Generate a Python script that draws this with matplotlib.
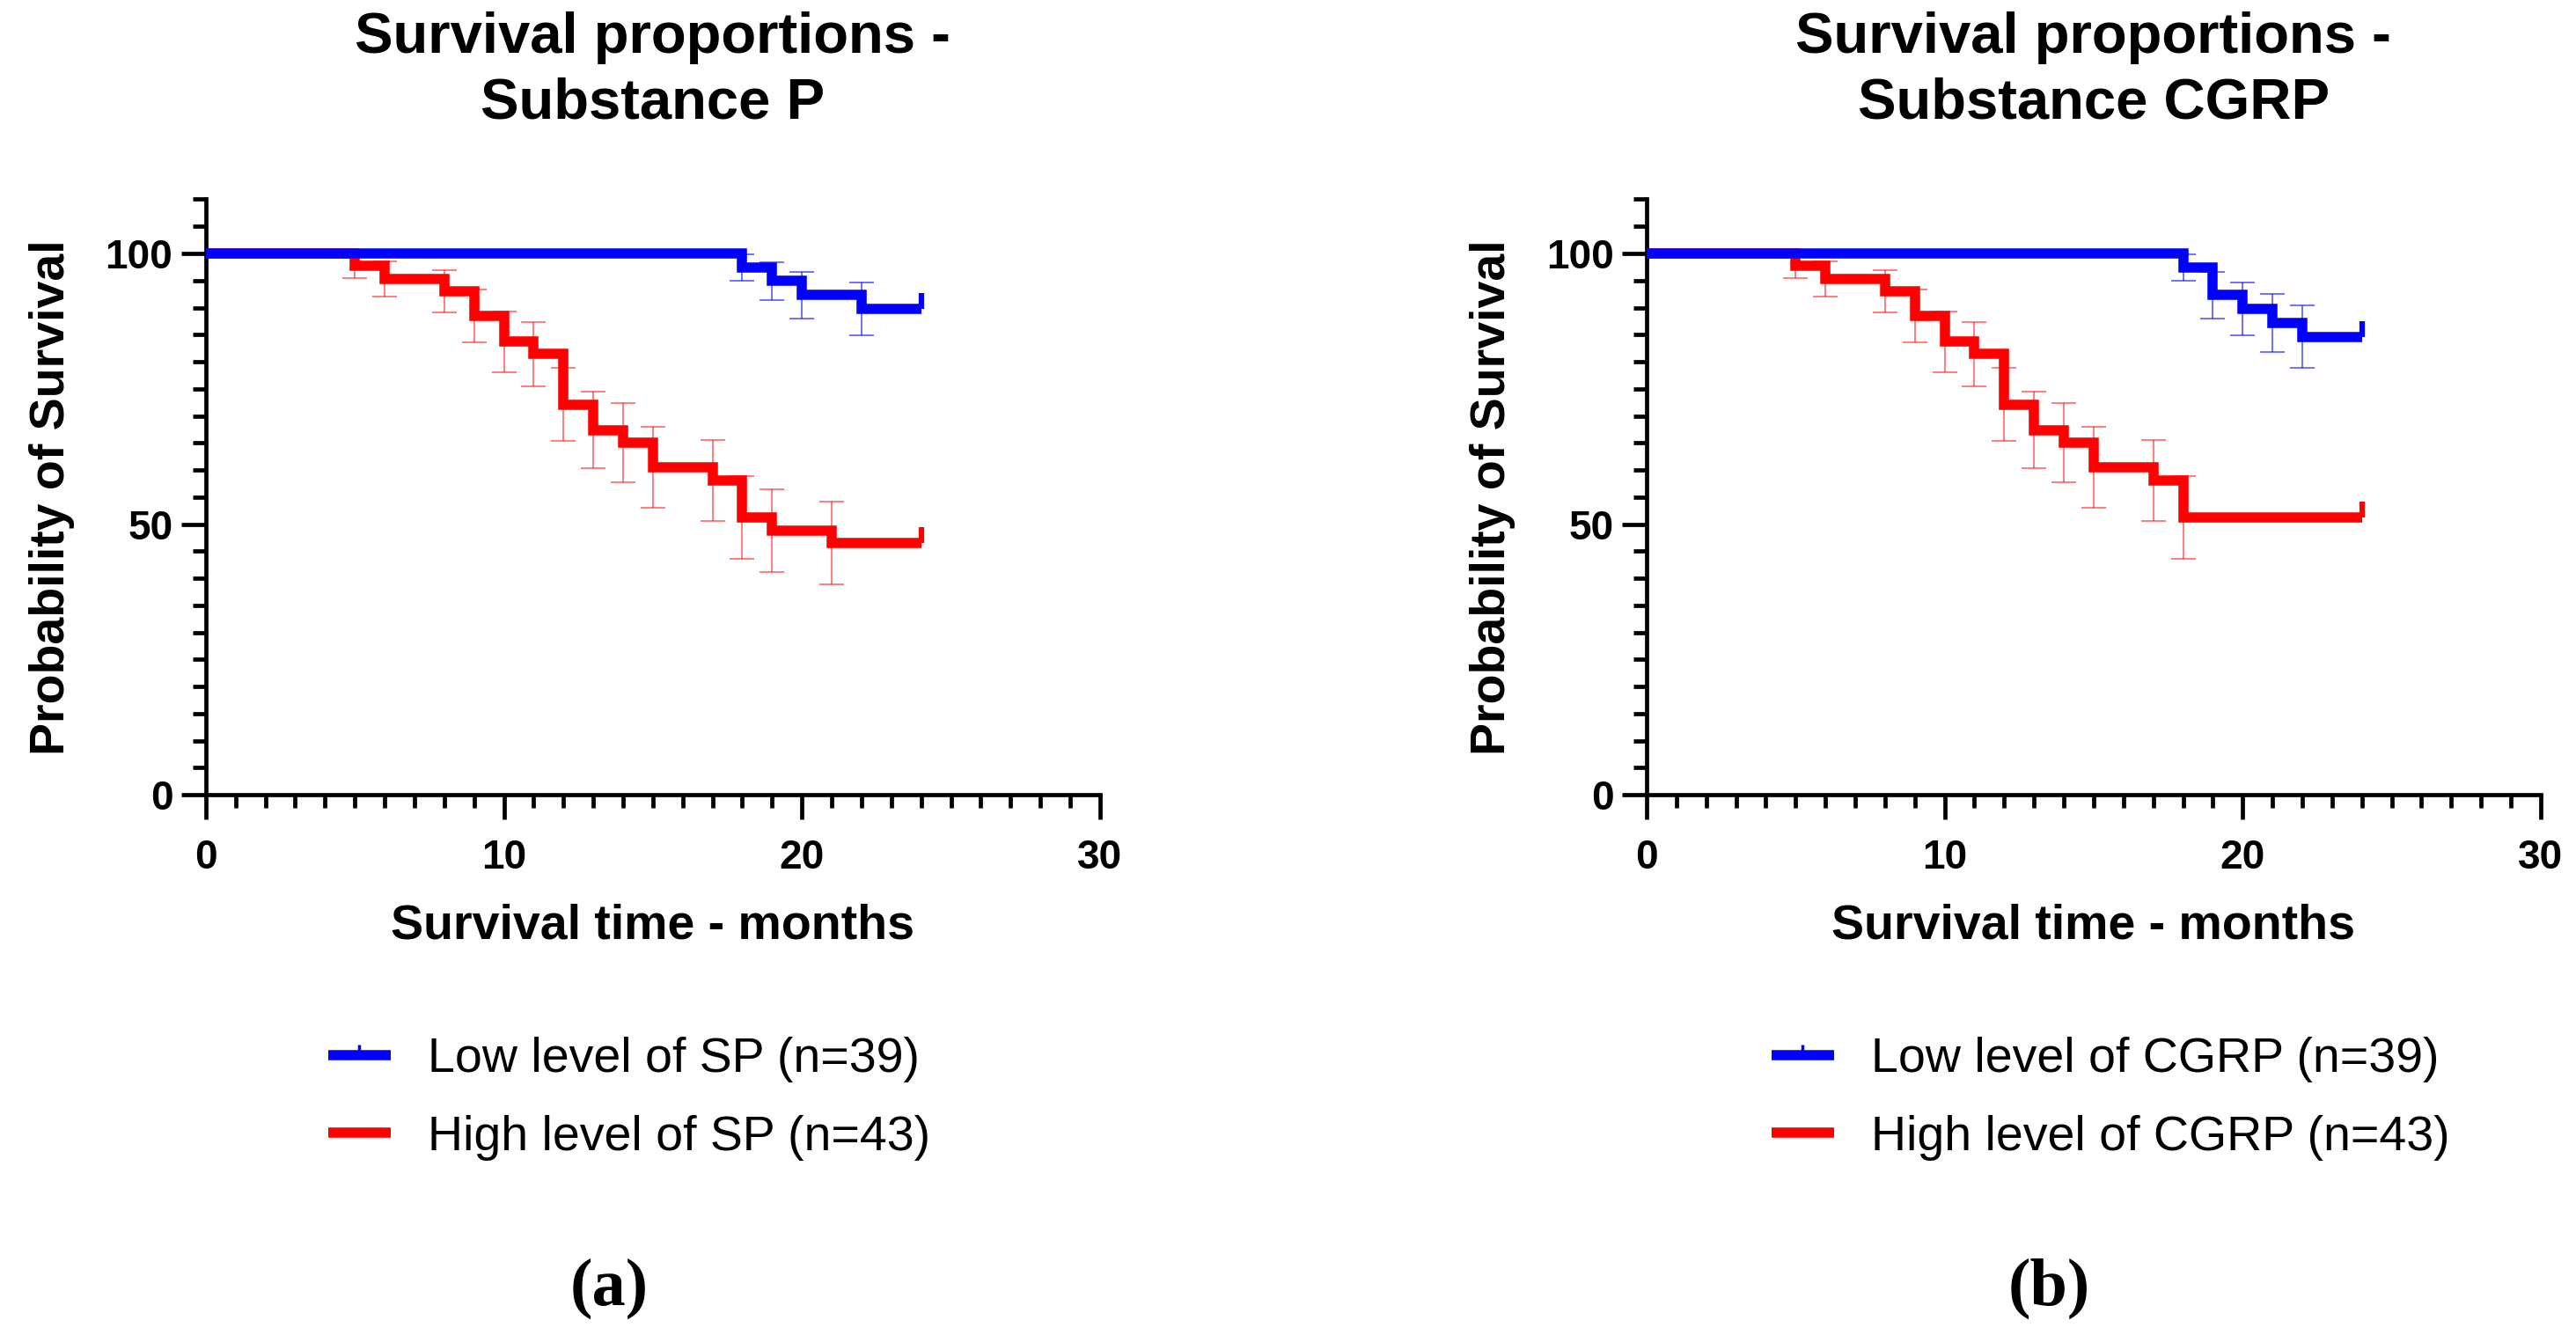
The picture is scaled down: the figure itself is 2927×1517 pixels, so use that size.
import matplotlib
matplotlib.use('Agg')
import matplotlib.pyplot as plt
from matplotlib.lines import Line2D

plt.rcParams['font.family'] = ['Liberation Sans', 'DejaVu Sans']

# Panel (a) - Substance P
sp_low_t = [18, 19, 20, 22]
sp_low_s = [97.4, 94.9, 92.3, 89.7]
sp_low_se = [2.5, 3.5, 4.3, 4.9]

sp_high_t = [5, 6, 8, 9, 10, 11, 12, 13, 14, 15, 17, 18, 19, 21]
sp_high_s = [97.7, 95.3, 93.0, 88.4, 83.7, 81.4, 72.1, 67.4, 65.1, 60.5, 58.1, 51.2, 48.8, 46.5]
sp_high_se = [2.3, 3.2, 3.9, 4.9, 5.6, 5.9, 6.8, 7.1, 7.3, 7.5, 7.5, 7.6, 7.6, 7.6]

# Panel (b) - Substance CGRP
cgrp_low_t = [18, 19, 20, 21, 22]
cgrp_low_s = [97.4, 92.3, 89.7, 87.2, 84.6]
cgrp_low_se = [2.5, 4.3, 4.9, 5.4, 5.8]

cgrp_high_t = [5, 6, 8, 9, 10, 11, 12, 13, 14, 15, 17, 18]
cgrp_high_s = [97.7, 95.3, 93.0, 88.4, 83.7, 81.4, 72.1, 67.4, 65.1, 60.5, 58.1, 51.2]
cgrp_high_se = [2.3, 3.2, 3.9, 4.9, 5.6, 5.9, 6.8, 7.1, 7.3, 7.5, 7.5, 7.6]

end_time = 24
titles = ['Survival proportions -\nSubstance P', 'Survival proportions -\nSubstance CGRP']
low_labels = ['Low level of SP (n=39)', 'Low level of CGRP (n=39)']
high_labels = ['High level of SP (n=43)', 'High level of CGRP (n=43)']
panel_tags = ['(a)', '(b)']

BLUE = '#0000FF'
RED = '#FF0000'
LW = 8.3

fig = plt.figure(figsize=(29.27, 15.17), dpi=100)
ax_a = fig.add_axes([0.0799, 0.4047, 0.3471, 0.4460])
ax_b = fig.add_axes([0.6392, 0.4047, 0.3471, 0.4460])


def km_curve(ax, t, s, se, color, ebar_alpha):
    xs = [0] + list(t) + [end_time]
    ys = [100] + list(s) + [s[-1]]
    ax.errorbar(t, s, yerr=se, fmt='none', ecolor=color, alpha=ebar_alpha,
                elinewidth=1.3, capsize=10, capthick=1.3, zorder=2)
    ax.step(xs, ys, where='post', color=color, lw=LW,
            solid_joinstyle='miter', solid_capstyle='butt', zorder=3, clip_on=False)
    # censored mark at the end
    ax.plot([end_time], [s[-1]], marker=2, ms=13, mew=4.5, color=color,
            zorder=3, clip_on=False)


def style_axes(ax):
    for side in ['top', 'right']:
        ax.spines[side].set_visible(False)
    for side in ['left', 'bottom']:
        ax.spines[side].set_linewidth(3.4)
    ax.set_xlim(0, 30)
    ax.set_ylim(0, 110)
    ax.set_xticks([0, 10, 20, 30])
    ax.set_xticks(range(0, 31), minor=True)
    ax.set_yticks([0, 50, 100])
    ax.set_yticks(range(0, 111, 5), minor=True)
    ax.tick_params(which='major', length=20, width=3.4)
    ax.tick_params(which='minor', length=11, width=3.4)
    ax.tick_params(axis='x', which='major', pad=16)
    ax.tick_params(axis='y', which='major', pad=7)
    for lab in ax.get_xticklabels() + ax.get_yticklabels():
        lab.set_weight('bold')
        lab.set_size(33)
    ax.set_xlabel('Survival time - months', fontsize=40, fontweight='bold')
    ax.set_ylabel('Probability of Survival', fontsize=40, fontweight='bold')
    ax.xaxis.set_label_coords(0.5, -0.183)
    ax.yaxis.set_label_coords(-0.147, 0.5)


data = [
    (ax_a, sp_low_t, sp_low_s, sp_low_se, sp_high_t, sp_high_s, sp_high_se),
    (ax_b, cgrp_low_t, cgrp_low_s, cgrp_low_se, cgrp_high_t, cgrp_high_s, cgrp_high_se),
]
legend_x = [0.1274, 0.6877]
tag_x = [0.2364, 0.7954]

for i, (ax, lt, ls, lse, ht, hs, hse) in enumerate(data):
    km_curve(ax, ht, hs, hse, RED, 0.55)
    km_curve(ax, lt, ls, lse, BLUE, 0.6)
    style_axes(ax)

    cx = (ax.get_position().x0 + ax.get_position().x1) / 2
    fig.text(cx, 1 - 80 / 1517, titles[i], ha='center', va='center',
             fontsize=47, fontweight='bold', linespacing=1.3)

    handles = [
        Line2D([], [], color=BLUE, lw=LW, marker=2, ms=9, mew=2.5,
               solid_capstyle='butt'),
        Line2D([], [], color=RED, lw=LW, solid_capstyle='butt'),
    ]
    leg = ax.legend(handles, [low_labels[i], high_labels[i]],
                    loc='center left', bbox_to_anchor=(legend_x[i], 0.177),
                    bbox_transform=fig.transFigure, frameon=False,
                    prop={'size': 40}, numpoints=1,
                    borderpad=0, borderaxespad=0, handlelength=1.28,
                    handletextpad=0.75, labelspacing=0.65)

    fig.text(tag_x[i], 0.035, panel_tags[i], ha='center', va='center',
             fontsize=55, fontweight='bold',
             family=['Liberation Serif', 'DejaVu Serif'])

fig.savefig('out.png', dpi=100)
